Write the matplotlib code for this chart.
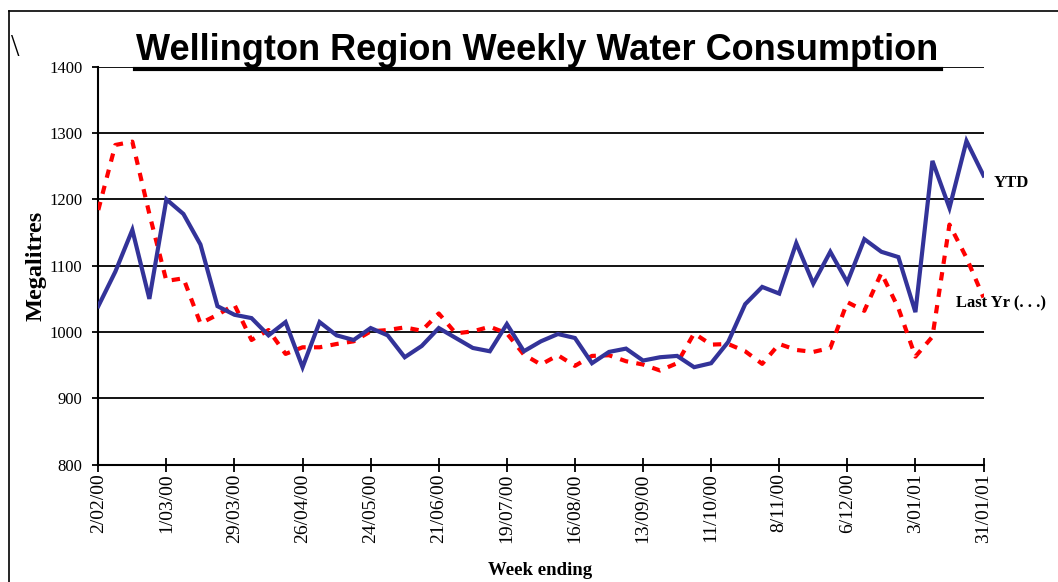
import numpy as np
import matplotlib
matplotlib.use("Agg")
import matplotlib.pyplot as plt
from matplotlib.lines import Line2D

# weekly consumption, megalitres, week ending 2/02/00 .. 31/01/01
ytd = [1039, 1091, 1154, 1050, 1200, 1178, 1132, 1039, 1026, 1021,
       995, 1015, 947, 1015, 995, 988, 1006, 995, 962, 979,
       1006, 991, 976, 971, 1012, 971, 986, 997, 991, 953,
       970, 975, 957, 962, 964, 947, 953, 985, 1042, 1068,
       1058, 1134, 1073, 1121, 1075, 1140, 1121, 1113, 1030, 1258,
       1187, 1288, 1236]
last_yr = [1184, 1282, 1287, 1178, 1077, 1081, 1013, 1026, 1041, 988,
           1003, 967, 977, 977, 982, 986, 1001, 1003, 1007, 1002,
           1028, 998, 1001, 1008, 998, 966, 951, 965, 949, 964,
           965, 956, 951, 942, 953, 998, 981, 982, 971, 952,
           982, 973, 970, 976, 1045, 1032, 1089, 1036, 963, 993,
           1162, 1112, 1052]
tick_labels = ["2/02/00", "1/03/00", "29/03/00", "26/04/00", "24/05/00",
               "21/06/00", "19/07/00", "16/08/00", "13/09/00", "11/10/00",
               "8/11/00", "6/12/00", "3/01/01", "31/01/01"]
y_ticks = [800, 900, 1000, 1100, 1200, 1300, 1400]

W, H = 1058, 582
fig = plt.figure(figsize=(W / 100, H / 100), dpi=100)
ax = fig.add_axes([98.3 / W, 1 - 464.7 / H, 885.2 / W, 398 / H])

weeks = np.arange(len(ytd))
ax.plot(weeks, ytd, color="#333399", lw=3.0, solid_joinstyle="miter", zorder=4)
ax.plot(weeks, last_yr, color="#ff0000", lw=3.0, linestyle=(0, (2, 2)), zorder=3)

ax.set_xlim(0, len(ytd) - 1)
ax.set_ylim(y_ticks[0], y_ticks[-1])
ax.set_xticks(weeks[::4])
ax.set_xticklabels(tick_labels, rotation=90, family="Liberation Serif", fontsize=14)
ax.set_yticks(y_ticks)
ax.set_yticklabels([str(v) for v in y_ticks], family="Liberation Serif", fontsize=12)
ax.tick_params(axis="x", direction="inout", length=10.5, width=1.3, pad=1)
ax.tick_params(axis="y", direction="out", length=4.3, width=1.3, pad=7)

for v in y_ticks[1:]:
    ax.axhline(v, color="black", lw=1.3, zorder=1)
for s in ["top", "right"]:
    ax.spines[s].set_visible(False)
for s in ["left", "bottom"]:
    ax.spines[s].set_linewidth(1.5)

ax.set_ylabel("Megalitres", family="Liberation Serif", fontweight="bold", fontsize=17.5)
ax.yaxis.set_label_coords(-0.059, 0.5)
ax.set_xlabel("Week ending", family="Liberation Serif", fontweight="bold", fontsize=13.5)
ax.xaxis.set_label_coords(0.499, -0.2445)

ax.annotate("YTD", xy=(weeks[-1], ytd[-1]), xytext=(7.2, -5.4), textcoords="offset points",
            ha="left", va="center", family="Liberation Serif", fontweight="bold", fontsize=12)
ax.annotate("Last Yr (. . .)", xy=(weeks[-1], last_yr[-1]), xytext=(-19.5, -4), textcoords="offset points",
            ha="left", va="center", family="Liberation Serif", fontweight="bold", fontsize=12)

# title with underline
fig.text(537.5 / W, 1 - 60 / H, "Wellington Region Weekly Water Consumption",
         ha="center", va="baseline", family="Liberation Sans", fontweight="bold", fontsize=26)
fig.add_artist(Line2D([135 / W, 941 / W], [1 - 68.5 / H] * 2, color="black", lw=3))

fig.text(15.5 / W, 1 - 49 / H, "\\", ha="center", va="center", family="Liberation Serif", fontsize=22)

# outer frame (top and left edges)
fig.add_artist(Line2D([9.3 / W, 1], [1 - 10.7 / H] * 2, color="black", lw=1.2))
fig.add_artist(Line2D([9.3 / W] * 2, [0, 1 - 10.7 / H], color="black", lw=1.2))

fig.savefig("out.png", dpi=100)
